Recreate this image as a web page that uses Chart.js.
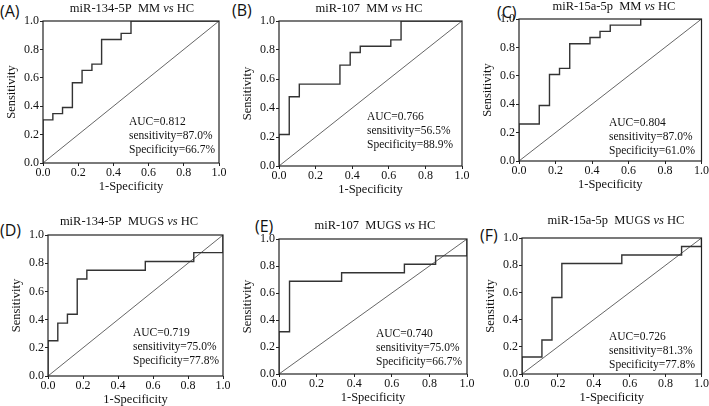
<!DOCTYPE html>
<html>
<head>
<meta charset="utf-8">
<script src="https://cdn.jsdelivr.net/npm/chart.js@4.4.1/dist/chart.umd.min.js"></script>
<style>
  html, body { margin: 0; padding: 0; background: #fff; overflow: hidden; width: 709px; height: 406px; }
  canvas { position: absolute; left: 0; top: 0; }
  .tag { position: absolute; font-family: "Open Sans", "DejaVu Sans", sans-serif; font-size: 16px; color: #111; line-height: 1; }
</style>
</head>
<body>
<div class="tag" style="left:0px;top:3px">(A)</div>
<div class="tag" style="left:232px;top:2px">(B)</div>
<div class="tag" style="left:497px;top:4px">(C)</div>
<div class="tag" style="left:0px;top:222px">(D)</div>
<div class="tag" style="left:255px;top:218px">(E)</div>
<div class="tag" style="left:480px;top:227px">(F)</div>
<canvas id="cA"></canvas>
<canvas id="cB"></canvas>
<canvas id="cC"></canvas>
<canvas id="cD"></canvas>
<canvas id="cE"></canvas>
<canvas id="cF"></canvas>
<script>
// ROC corner points: 1-specificity (x) and sensitivity (y)
var fprA = [0, 0, 0.056, 0.111, 0.167, 0.222, 0.278, 0.333, 0.444, 0.5, 1.0];
var tprA = [0, 0.304, 0.348, 0.391, 0.565, 0.652, 0.696, 0.870, 0.913, 1.0, 1.0];

var fprB = [0, 0, 0.056, 0.111, 0.333, 0.389, 0.444, 0.611, 0.667, 1.0];
var tprB = [0, 0.217, 0.478, 0.565, 0.696, 0.783, 0.826, 0.870, 1.0, 1.0];

var fprC = [0, 0, 0.111, 0.167, 0.222, 0.278, 0.389, 0.444, 0.5, 0.667, 1.0];
var tprC = [0, 0.261, 0.391, 0.609, 0.652, 0.826, 0.870, 0.913, 0.957, 1.0, 1.0];

var fprD = [0, 0, 0.056, 0.111, 0.167, 0.222, 0.556, 0.833, 1.0];
var tprD = [0, 0.25, 0.375, 0.4375, 0.6875, 0.75, 0.8125, 0.875, 1.0];

var fprE = [0, 0, 0.056, 0.333, 0.667, 0.833, 1.0];
var tprE = [0, 0.3125, 0.6875, 0.75, 0.8125, 0.875, 1.0];

var fprF = [0, 0, 0.111, 0.167, 0.222, 0.556, 0.889, 1.0];
var tprF = [0, 0.125, 0.25, 0.5625, 0.8125, 0.875, 0.9375, 1.0];

var diagX = [0, 1];
var diagY = [0, 1];
var tickValues = [0, 0.2, 0.4, 0.6, 0.8, 1.0];

var titles = [
    ['miR-134-5P  MM ', 'vs', ' HC'],
    ['miR-107  MM ', 'vs', ' HC'],
    ['miR-15a-5p  MM ', 'vs', ' HC'],
    ['miR-134-5P  MUGS ', 'vs', ' HC'],
    ['miR-107  MUGS ', 'vs', ' HC'],
    ['miR-15a-5p  MUGS ', 'vs', ' HC']
];
var stats = [
    ['AUC=0.812', 'sensitivity=87.0%', 'Specificity=66.7%'],
    ['AUC=0.766', 'sensitivity=56.5%', 'Specificity=88.9%'],
    ['AUC=0.804', 'sensitivity=87.0%', 'Specificity=61.0%'],
    ['AUC=0.719', 'sensitivity=75.0%', 'Specificity=77.8%'],
    ['AUC=0.740', 'sensitivity=75.0%', 'Specificity=66.7%'],
    ['AUC=0.726', 'sensitivity=81.3%', 'Specificity=77.8%']
];

var W = 709, H = 440;
var SERIF = '"Liberation Serif", "DejaVu Serif", serif';
var Y_W = 43, X_H = 35;

// plot box of each panel on the page, plus where title and stats go
var panels = [
    { id: 'cA', fpr: fprA, tpr: tprA, box: [43, 21, 219, 163], titleX: 132, titleY: 9, statX: 129, statY: 122 },
    { id: 'cB', fpr: fprB, tpr: tprB, box: [279, 21, 462, 166], titleX: 369, titleY: 9, statX: 367, statY: 117 },
    { id: 'cC', fpr: fprC, tpr: tprC, box: [519, 19, 703, 161], titleX: 614, titleY: 7, statX: 609, statY: 123 },
    { id: 'cD', fpr: fprD, tpr: tprD, box: [48, 235, 223, 376], titleX: 129, titleY: 222, statX: 133, statY: 333 },
    { id: 'cE', fpr: fprE, tpr: tprE, box: [279, 239, 467, 374], titleX: 375, titleY: 226, statX: 376, statY: 334 },
    { id: 'cF', fpr: fprF, tpr: tprF, box: [522, 238, 704, 374], titleX: 616, titleY: 221, statX: 609, statY: 337 }
];

function toPoints(xs, ys) {
    return xs.map(function(x, i) { return { x: x, y: ys[i] }; });
}

// frame, title (with italic "vs") and AUC block
var decorPlugin = {
    id: 'decor',
    afterDraw: function(chart) {
        var ctx = chart.ctx;
        var a = chart.chartArea;
        var o = chart.options.plugins.decor;
        ctx.save();
        ctx.strokeStyle = '#222';
        ctx.lineWidth = 1.2;
        ctx.strokeRect(a.left, a.top, a.right - a.left, a.bottom - a.top);

        ctx.fillStyle = '#111';
        ctx.textBaseline = 'middle';
        var parts = o.title;
        var fonts = ['12.5px ' + SERIF, 'italic 12.5px ' + SERIF, '12.5px ' + SERIF];
        var widths = parts.map(function(p, i) { ctx.font = fonts[i]; return ctx.measureText(p).width; });
        var total = widths.reduce(function(s, w) { return s + w; }, 0);
        var x = o.titleX - total / 2;
        parts.forEach(function(p, i) {
            ctx.font = fonts[i];
            ctx.textAlign = 'left';
            ctx.fillText(p, x, o.titleY);
            x += widths[i];
        });

        ctx.font = '11.5px ' + SERIF;
        o.stats.forEach(function(line, i) {
            ctx.fillText(line, o.statX, o.statY + i * 14);
        });
        ctx.restore();
    }
};

panels.forEach(function(p, idx) {
    var cv = document.getElementById(p.id);
    cv.width = W;
    cv.height = H;
    var L = p.box[0], T = p.box[1], R = p.box[2], B = p.box[3];
    new Chart(cv.getContext('2d'), {
        type: 'line',
        data: {
            datasets: [
                {
                    data: toPoints(p.fpr, p.tpr),
                    borderColor: '#333',
                    borderWidth: 1.4,
                    stepped: 'before',
                    pointRadius: 0,
                    fill: false
                },
                {
                    data: toPoints(diagX, diagY),
                    borderColor: '#555',
                    borderWidth: 0.9,
                    pointRadius: 0,
                    fill: false
                }
            ]
        },
        options: {
            responsive: false,
            animation: false,
            events: [],
            layout: {
                autoPadding: false,
                padding: { left: L - Y_W, top: T, right: W - R, bottom: H - B - X_H }
            },
            plugins: {
                legend: { display: false },
                tooltip: { enabled: false },
                decor: { title: titles[idx], stats: stats[idx], titleX: p.titleX, titleY: p.titleY, statX: p.statX, statY: p.statY }
            },
            scales: {
                x: {
                    type: 'linear',
                    min: 0, max: 1,
                    afterFit: function(s) { s.height = X_H; },
                    afterBuildTicks: function(s) { s.ticks = tickValues.map(function(v) { return { value: v }; }); },
                    border: { display: false },
                    grid: { drawOnChartArea: false, drawTicks: true, tickLength: 3, color: '#222' },
                    ticks: {
                        padding: 0, color: '#111', maxRotation: 0,
                        font: { family: SERIF, size: 12 },
                        callback: function(v) { return v.toFixed(1); }
                    },
                    title: { display: true, text: '1-Specificity', color: '#111', padding: { top: 0, bottom: 4 }, font: { family: SERIF, size: 12.5 } }
                },
                y: {
                    type: 'linear',
                    min: 0, max: 1,
                    afterFit: function(s) { s.width = Y_W; },
                    afterBuildTicks: function(s) { s.ticks = tickValues.map(function(v) { return { value: v }; }); },
                    border: { display: false },
                    grid: { drawOnChartArea: false, drawTicks: true, tickLength: 3, color: '#222' },
                    ticks: {
                        padding: 1, color: '#111',
                        font: { family: SERIF, size: 12 },
                        callback: function(v) { return v.toFixed(1); }
                    },
                    title: { display: true, text: 'Sensitivity', color: '#111', padding: { top: 4, bottom: 0 }, font: { family: SERIF, size: 12.5 } }
                }
            }
        },
        plugins: [decorPlugin]
    });
});
</script>
</body>
</html>
